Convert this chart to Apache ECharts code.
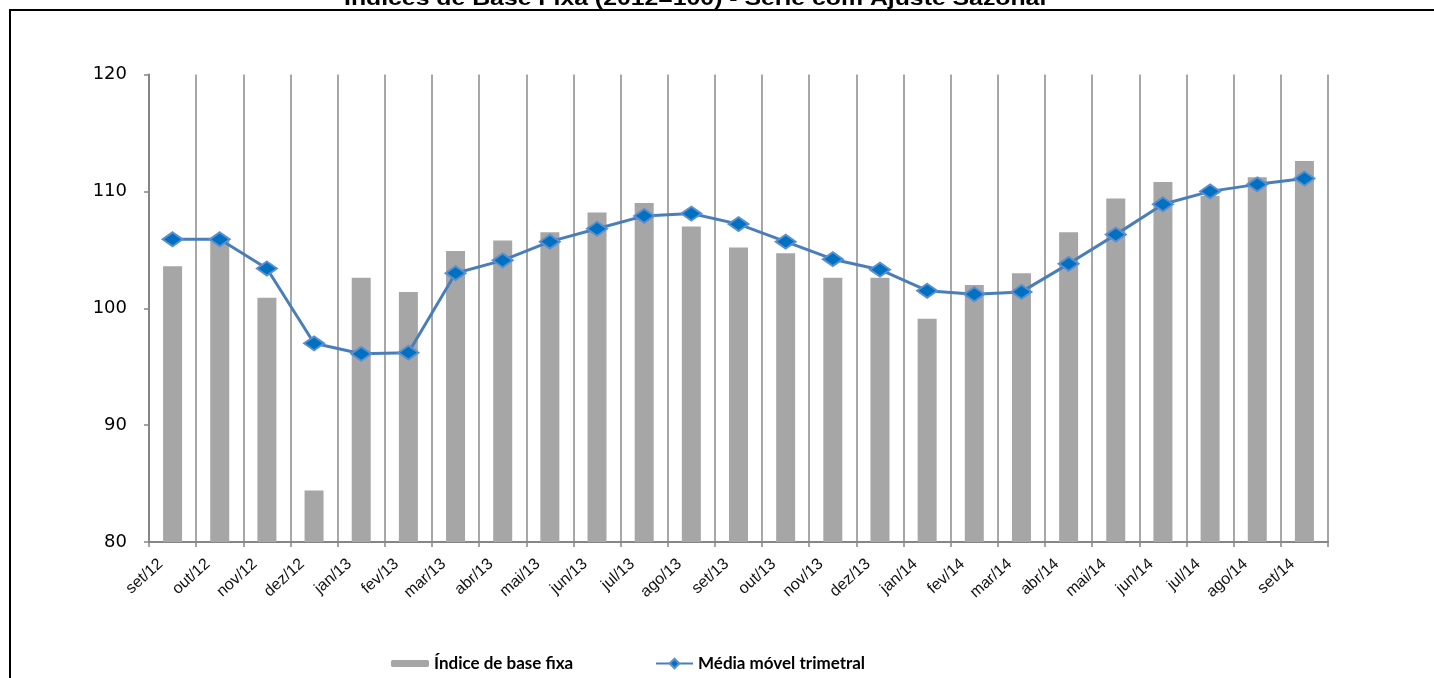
<!DOCTYPE html>
<html>
<head>
    <meta charset="utf-8">
    <title>Índices de Base Fixa</title>
    <script src="https://cdn.jsdelivr.net/npm/echarts@6/dist/echarts.min.js"></script>
    <style>
        html, body { margin: 0; padding: 0; background: #fff; }
        #main { width: 1434px; height: 678px; }
    </style>
</head>
<body>
    <div id="main"></div>
    <script>
        // meses (set/12 .. set/14)
        var meses = ['set/12', 'out/12', 'nov/12', 'dez/12', 'jan/13', 'fev/13', 'mar/13', 'abr/13',
            'mai/13', 'jun/13', 'jul/13', 'ago/13', 'set/13', 'out/13', 'nov/13', 'dez/13',
            'jan/14', 'fev/14', 'mar/14', 'abr/14', 'mai/14', 'jun/14', 'jul/14', 'ago/14', 'set/14'];
        // índice de base fixa (barras)
        var indice = [103.6, 105.9, 100.9, 84.4, 102.6, 101.4, 104.9, 105.8,
            106.5, 108.2, 109.0, 107.0, 105.2, 104.7, 102.6, 102.6,
            99.1, 102.0, 103.0, 106.5, 109.4, 110.8, 109.6, 111.2, 112.6];
        // média móvel trimetral (linha)
        var media = [105.9, 105.9, 103.4, 97.0, 96.1, 96.2, 103.0, 104.1,
            105.7, 106.8, 107.9, 108.1, 107.2, 105.7, 104.2, 103.3,
            101.5, 101.2, 101.4, 103.8, 106.3, 108.9, 110.0, 110.6, 111.1];
        var yTicks = [80, 90, 100, 110, 120];

        var myChart = echarts.init(document.getElementById('main'));
        var option = {
            backgroundColor: '#fff',
            animation: false,
            graphic: [{
                // moldura
                type: 'rect',
                shape: { x: 10, y: 10, width: 1500, height: 700 },
                style: { fill: null, stroke: '#000', lineWidth: 2 },
                silent: true
            }, {
                // titulo (cortado no topo, como no original)
                type: 'text',
                x: 344,
                y: 9,
                scaleX: 1.24,
                style: {
                    text: 'Índices de Base Fixa (2012=100) - Série com Ajuste Sazonal',
                    font: 'bold 20px "Liberation Sans"',
                    fill: '#000',
                    verticalAlign: 'bottom'
                },
                silent: true
            }],
            legend: [{
                data: ['Índice de base fixa'],
                left: 386,
                top: 650,
                itemWidth: 38,
                itemHeight: 7,
                itemGap: 4,
                textStyle: { fontFamily: 'Lato', fontWeight: 'bold', fontSize: 17, color: '#000' }
            }, {
                data: ['Média móvel trimetral'],
                left: 650,
                top: 650,
                itemWidth: 37,
                itemHeight: 12,
                textStyle: { fontFamily: 'Lato', fontWeight: 'bold', fontSize: 17, color: '#000' }
            }],
            grid: {
                left: 149,
                right: 106,
                top: 74.5,
                bottom: 136
            },
            xAxis: {
                type: 'category',
                data: meses,
                boundaryGap: true,
                axisLine: { lineStyle: { color: '#868686', width: 2 } },
                axisTick: { show: true, length: 5, lineStyle: { color: '#868686', width: 1.5 } },
                splitLine: { show: true, lineStyle: { color: '#8a8a8a', width: 1.5 } },
                axisLabel: {
                    rotate: 42,
                    margin: 9,
                    interval: 0,
                    padding: [0, 16, 0, 0],
                    fontFamily: 'Liberation Sans',
                    fontSize: 16,
                    color: '#111'
                }
            },
            yAxis: {
                type: 'value',
                min: yTicks[0],
                max: yTicks[yTicks.length - 1],
                interval: 10,
                axisLine: { show: true, lineStyle: { color: '#868686', width: 2 } },
                axisTick: { show: true, length: 5, lineStyle: { color: '#868686', width: 1.5 } },
                splitLine: { show: false },
                axisLabel: {
                    margin: 22,
                    fontFamily: 'DejaVu Sans',
                    fontSize: 18,
                    color: '#000'
                }
            },
            series: [{
                name: 'Índice de base fixa',
                type: 'bar',
                data: indice,
                barWidth: 19,
                itemStyle: { color: '#a6a6a6' },
                z: 2
            }, {
                name: 'Média móvel trimetral',
                type: 'line',
                data: media,
                symbol: 'diamond',
                symbolSize: [20, 14],
                lineStyle: { color: '#4a7ebb', width: 3 },
                itemStyle: { color: '#0070c0', borderColor: '#5b8fd0', borderWidth: 2 },
                z: 3
            }]
        };
        myChart.setOption(option);
    </script>
</body>
</html>
